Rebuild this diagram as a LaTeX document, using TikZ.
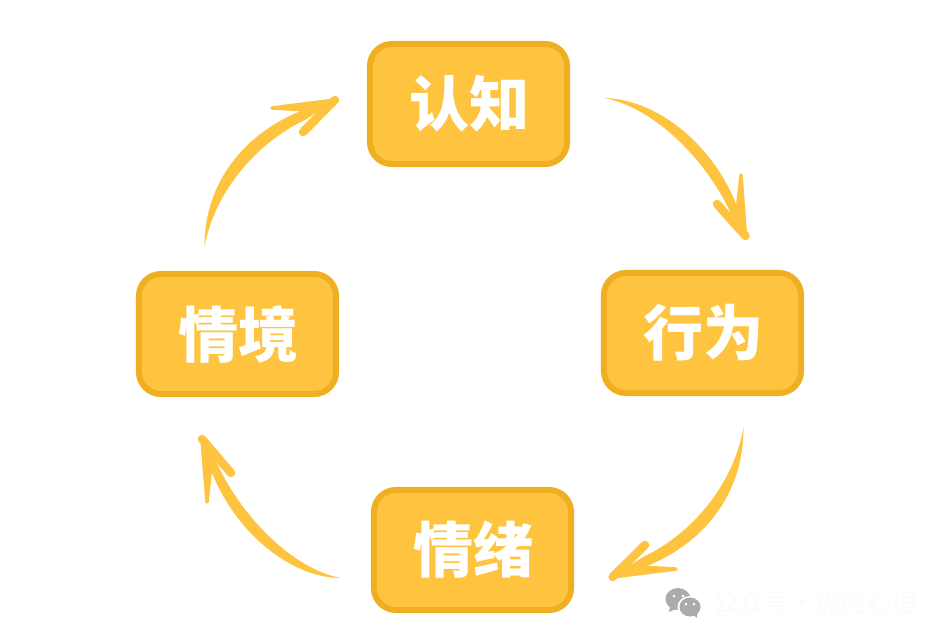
\documentclass[tikz,border=0pt]{standalone}
\usepackage{fontspec}
\newfontfamily\cjkblack{Noto Sans CJK SC Black}
\newfontfamily\cjklight{Noto Sans CJK SC}
\usetikzlibrary{calc}
\definecolor{boxfill}{HTML}{FFC43F}
\definecolor{boxline}{HTML}{F0AF22}
\definecolor{iconcol}{HTML}{ABABAB}
\tikzset{
  stepbox/.style={draw=boxline, fill=boxfill, line width=6*0.01cm, rounded corners=0.22cm,
    minimum width=1.97cm, minimum height=1.20cm, inner sep=0pt, text=white,
    font=\cjkblack\fontsize{17.1pt}{18pt}\selectfont, execute at begin node=\kern 0.02cm},
  body/.style={fill=boxfill},
  barb/.style={draw=boxfill, fill=boxfill, line join=round, line cap=round},
}
% #1 = start, then #1c1 #1c2 outer controls, #2 = tip, #1e #1d2 #1d1 = way back
\newcommand{\handarrow}[2]{
  \fill[body] (#1) .. controls (#1c1) and (#1c2) .. (#2) -- (#1e)
    .. controls (#1d2) and (#1d1) .. (#1) -- cycle;
  \draw[barb, line width=3.5*0.01cm] (#2) -- (#1r) -- (#1i) -- cycle;
  \draw[barb, line width=8.5*0.01cm] (#1l) -- (#2);
}
\begin{document}
\begin{tikzpicture}[x=0.01cm, y=-0.01cm]
\useasboundingbox (0,0) rectangle (952,642);
\node[stepbox] (renzhi) at (468.5,104) {认知};
\node[stepbox] (xingwei) at (702.5,333) {行为};
\node[stepbox] (qingxu) at (472.5,550) {情绪};
\node[stepbox] (qingjing) at (237.5,334) {情境};
% renzhi to xingwei
\coordinate (a) at ($(renzhi.east)+(34,-6)$);
\coordinate (at) at ($(xingwei.north)+(43,-34)$);
\coordinate (ac1) at (665,99);
\coordinate (ac2) at (731,160);
\coordinate (ae) at (733,218);
\coordinate (ad2) at (706,157);
\coordinate (ad1) at (652,107);
\coordinate (ar) at (741,175);
\coordinate (ai) at (737,212);
\coordinate (al) at (717,204);
\handarrow{a}{at}
% xingwei to qingxu
\coordinate (b) at ($(xingwei.south)+(41,31)$);
\coordinate (bt) at ($(qingxu.east)+(38.5,27)$);
\coordinate (bc1) at (744,497);
\coordinate (bc2) at (699,557);
\coordinate (be) at (643,557);
\coordinate (bd2) at (692,534);
\coordinate (bd1) at (734,484);
\coordinate (br) at (676,569);
\coordinate (bi) at (640,567);
\coordinate (bl) at (645,545);
\handarrow{b}{bt}
% qingxu to qingjing
\coordinate (c) at ($(qingxu.west)+(-30,28)$);
\coordinate (ct) at ($(qingjing.south)+(-35.5,42)$);
\coordinate (cc1) at (283,578);
\coordinate (cc2) at (217,517);
\coordinate (ce) at (215,459);
\coordinate (cd2) at (242,520);
\coordinate (cd1) at (296,570);
\coordinate (cr) at (207,502);
\coordinate (ci) at (211,465);
\coordinate (cl) at (231,473);
\handarrow{c}{ct}
% qingjing to renzhi
\coordinate (d) at ($(qingjing.north)+(-33,-24)$);
\coordinate (dt) at ($(renzhi.west)+(-32,-4)$);
\coordinate (dc1) at (204,180);
\coordinate (dc2) at (249,120);
\coordinate (de) at (305,120);
\coordinate (dd2) at (256,143);
\coordinate (dd1) at (214,193);
\coordinate (dr) at (272,108);
\coordinate (di) at (308,110);
\coordinate (dl) at (303,132);
\handarrow{d}{dt}
% watermark
\node[font=\cjklight\fontsize{7.3pt}{9pt}\selectfont, text=black!1.5, inner sep=0pt] (mark) at (815,603) {公众号·虎虎心理};
\fill[iconcol] (678,599) ellipse (12.5 and 11);
\fill[iconcol] (670,607) -- (669,612) -- (676,609) -- cycle;
\fill[white] (690,607) ellipse (12.5 and 11);
\fill[iconcol] (690,607) ellipse (10.5 and 9.5);
\fill[iconcol] (693,614) -- (697,618) -- (697,612) -- cycle;
\foreach \p in {(674,596),(683,596),(686,604),(694,604)} \fill[white] \p circle (1.5);
\end{tikzpicture}
\end{document}
